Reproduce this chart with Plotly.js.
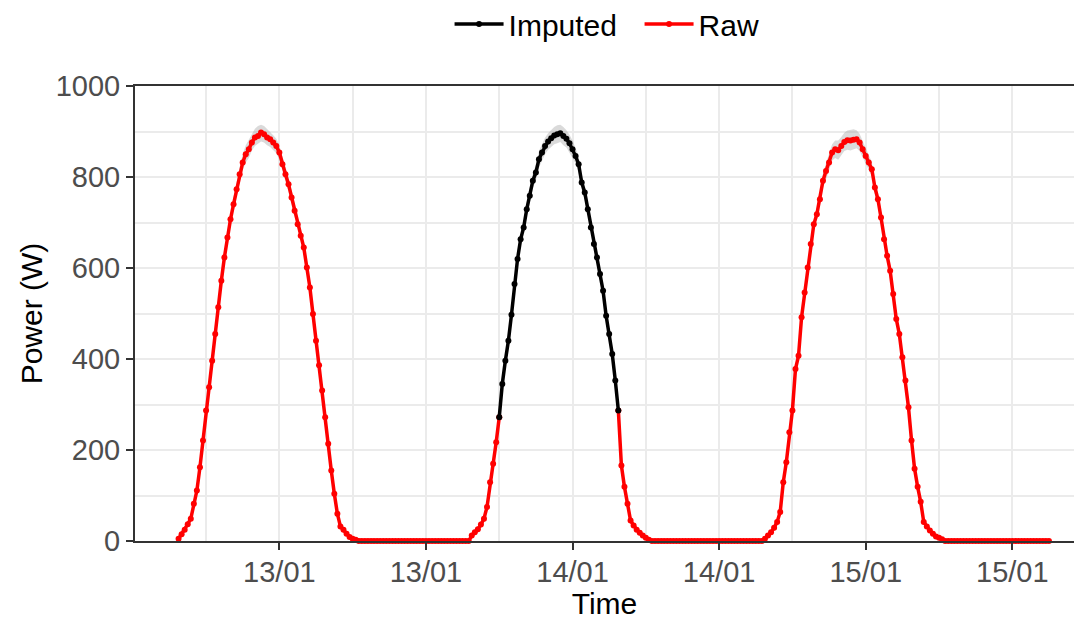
<!DOCTYPE html>
<html>
<head>
<meta charset="utf-8">
<script src="https://cdn.plot.ly/plotly-3.0.1.min.js"></script>
<style>html,body{margin:0;padding:0;background:#fff;overflow:hidden}#chart{width:1074px;height:620px}</style>
</head>
<body>
<div id="chart"></div>
<script>
// ---- data (15-minute samples) ----
const seriesStart = '2024-01-12 21:45';   // first sample
const stepMinutes = 15;

// Raw power, day 1 (12/01 21:45 .. 13/01 21:30)
const rawDay1 = [5,15,25,37,49,82,111,162,221,287,338,396,455,514,572,623,667,707,740,773,
  806,832,850,861,876,887,890,898,894,887,883,876,868,854,828,806,784,755,726,696,
  671,645,601,557,499,440,386,331,272,214,155,104,60,32,25,16,9,5,3,
  0,0,0,0,0,0,0,0,0,0,0,0,0,0,0,0,0,0,0,0,0,0,0,0,0,0,0,0,0,0,0,0,0,0,0,0,0];

// Raw power, day 2 (13/01 21:45 .. 14/01 21:30), gap where values were missing
const rawDay2 = [12,19,26,36,49,75,129,170,217,272,
  null,null,null,null,null,null,null,null,null,null,null,null,null,null,null,null,null,null,null,
  null,null,null,null,null,null,null,null,null,null,null,null,null,null,null,null,null,null,null,
  287,166,119,82,45,34,25,18,12,7,3,
  0,0,0,0,0,0,0,0,0,0,0,0,0,0,0,0,0,0,0,0,0,0,0,0,0,0,0,0,0,0,0,0,0,0,0,0,0];

// Raw power, day 3 (14/01 21:45 .. 15/01 21:00)
const rawDay3 = [5,12,19,29,42,64,129,173,239,287,378,407,492,546,601,653,696,718,751,792,
  813,832,854,861,859,868,877,881,880,882,883,876,861,846,832,817,777,751,711,663,
  627,594,543,488,455,404,353,294,221,159,119,86,42,32,23,16,10,7,4,
  0,0,0,0,0,0,0,0,0,0,0,0,0,0,0,0,0,0,0,0,0,0,0,0,0,0,0,0,0,0,0,0,0,0,0];

// Imputed power (14/01 00:00 .. 14/01 09:45)
const imputedStart = '2024-01-14 00:00';
const imputedPower = [272,345,396,440,497,565,620,663,689,729,759,792,810,839,854,868,878,885,891,894,
  896,890,884,874,861,846,828,788,766,729,689,653,623,587,550,495,455,411,353,287];

// Uncertainty band around the peaks (grey ribbon)
const bandStarts = ['2024-01-13 02:15', '2024-01-14 02:15', '2024-01-15 02:15'];
const bandUpper = [
  [755,790,822,850,870,882,895,906,912,915,912,906,900,892,884,870,845,822,800,770,742],
  [744,775,808,828,857,872,886,896,904,910,914,915,910,903,893,880,863,845,805,782,745],
  [766,808,830,850,872,880,880,888,897,902,904,905,903,895,879,863,848,833,793,767,727]
];
const bandLower = [
  [725,757,790,815,832,842,858,868,872,878,876,870,866,860,852,838,812,790,768,740,710],
  [714,743,776,792,821,836,850,860,866,872,874,877,870,865,855,842,829,811,771,750,713],
  [736,776,796,814,836,842,838,848,857,860,858,860,863,857,843,829,816,801,761,735,695]
];

// Axis ticks
const xTickVals = ['2024-01-13 06:00','2024-01-13 18:00','2024-01-14 06:00','2024-01-14 18:00','2024-01-15 06:00','2024-01-15 18:00'];
const xTickText = ['13/01','13/01','14/01','14/01','15/01','15/01'];
const xRange = ['2024-01-12 18:11', '2024-01-15 23:03'];
const yTickVals = [0,200,400,600,800,1000];

// ---- helpers ----
function timesFrom(start, n) {
  const p = start.split(/[- :]/).map(Number);
  const t0 = Date.UTC(p[0], p[1]-1, p[2], p[3], p[4]);
  const out = [];
  for (let i = 0; i < n; i++) {
    out.push(new Date(t0 + i*stepMinutes*60000).toISOString().slice(0,16).replace('T',' '));
  }
  return out;
}

const rawPower = rawDay1.concat(rawDay2, rawDay3);
const rawTimes = timesFrom(seriesStart, rawPower.length);
const impTimes = timesFrom(imputedStart, imputedPower.length);

const traces = [];
bandStarts.forEach((s, i) => {
  const t = timesFrom(s, bandUpper[i].length);
  traces.push({
    x: t.concat(t.slice().reverse()),
    y: bandUpper[i].concat(bandLower[i].slice().reverse()),
    type: 'scatter', mode: 'lines', fill: 'toself',
    fillcolor: 'rgba(150,150,150,0.35)', line: {width: 0},
    showlegend: false, hoverinfo: 'skip'
  });
});
traces.push({
  x: rawTimes, y: rawPower, name: 'Raw', type: 'scatter', mode: 'lines+markers',
  line: {color: '#ff0000', width: 3.5}, marker: {color: '#ff0000', size: 6},
  connectgaps: false, legendrank: 2, cliponaxis: false
});
traces.push({
  x: impTimes, y: imputedPower, name: 'Imputed', type: 'scatter', mode: 'lines+markers',
  line: {color: '#000000', width: 3.5}, marker: {color: '#000000', size: 6},
  legendrank: 1, cliponaxis: false
});

const font = 'Liberation Sans, Arial, Helvetica, sans-serif';
const layout = {
  width: 1074, height: 620,
  margin: {l: 135, r: 0, t: 86, b: 79, autoexpand: false},
  paper_bgcolor: '#ffffff', plot_bgcolor: '#ffffff',
  font: {family: font, color: '#000000'},
  showlegend: true,
  legend: {orientation: 'h', x: 0.335, xanchor: 'left', yref: 'container', y: 0.9613, yanchor: 'middle',
           itemwidth: 49, entrywidth: 126,
           font: {size: 30, color: '#000000', family: font}, bgcolor: 'rgba(0,0,0,0)'},
  xaxis: {
    type: 'date', range: xRange, tickmode: 'array', tickvals: xTickVals, ticktext: xTickText,
    ticks: 'outside', ticklen: 7, tickwidth: 2, tickcolor: '#333333',
    showline: true, linecolor: '#333333', linewidth: 2, mirror: true,
    showgrid: true, gridcolor: '#ebebeb', gridwidth: 2, zeroline: false,
    minor: {dtick: 6*3600*1000, tick0: '2024-01-13 00:00', showgrid: true, gridcolor: '#ebebeb', gridwidth: 2, ticks: ''},
    tickfont: {size: 29, color: '#4d4d4d', family: font},
    ticklabelstandoff: -3,
    title: {text: 'Time', font: {size: 30, color: '#000000', family: font}, standoff: 6},
    automargin: false
  },
  yaxis: {
    range: [0, 1000], tickmode: 'array', tickvals: yTickVals,
    ticks: 'outside', ticklen: 7, tickwidth: 2, tickcolor: '#333333',
    showline: true, linecolor: '#333333', linewidth: 2,
    showgrid: true, gridcolor: '#ebebeb', gridwidth: 2, zeroline: false,
    minor: {dtick: 100, showgrid: true, gridcolor: '#ebebeb', gridwidth: 2, ticks: ''},
    tickfont: {size: 29, color: '#4d4d4d', family: font},
    title: {text: 'Power (W)', font: {size: 30, color: '#000000', family: font}, standoff: 4},
    automargin: false
  }
};

Plotly.newPlot('chart', traces, layout, {displayModeBar: false, staticPlot: true});
</script>
</body>
</html>
